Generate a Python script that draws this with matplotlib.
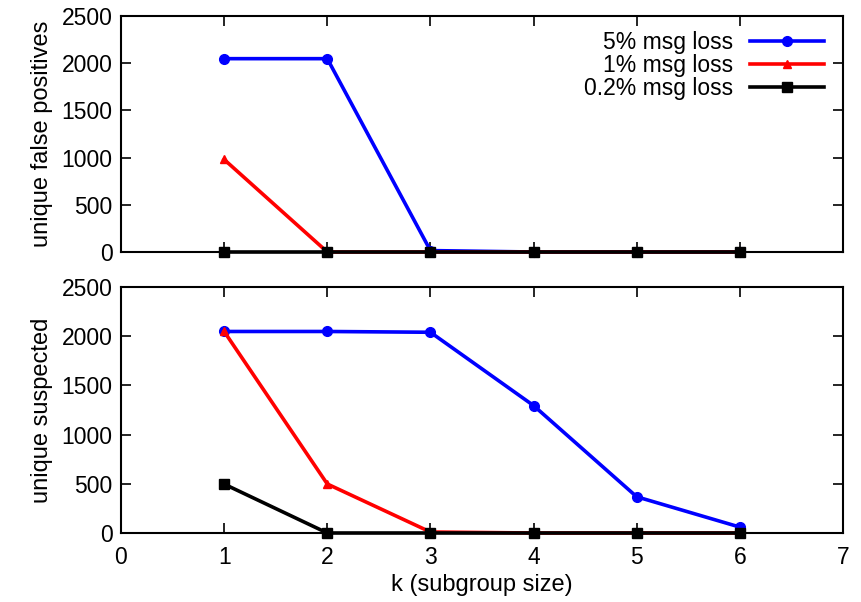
import matplotlib
matplotlib.use("Agg")
from matplotlib import pyplot as plt

k = [1, 2, 3, 4, 5, 6]
labels = ["5% msg loss", "1% msg loss", "0.2% msg loss"]

# unique false positives
fp_5 = [2048, 2048, 15, 0, 0, 0]
fp_1 = [980, 0, 0, 0, 0, 0]
fp_02 = [0, 0, 0, 0, 0, 0]

# unique suspected
sus_5 = [2048, 2048, 2040, 1295, 368, 60]
sus_1 = [2048, 498, 10, 0, 0, 0]
sus_02 = [497, 0, 0, 0, 0, 0]

plt.rcParams["font.family"] = ["Liberation Sans", "DejaVu Sans"]
plt.rcParams["font.size"] = 16.5

fig = plt.figure(figsize=(8.62, 6.02), dpi=100)
ax1 = fig.add_axes([121 / 862, 1 - 252 / 602, 722 / 862, 236 / 602])
ax2 = fig.add_axes([121 / 862, 1 - 533 / 602, 722 / 862, 246 / 602])

styles = [("blue", "o", 7), ("red", "^", 6), ("black", "s", 6.5)]

for ax, series in ((ax1, (fp_5, fp_1, fp_02)), (ax2, (sus_5, sus_1, sus_02))):
    for vals, (c, m, ms), lab in zip(series, styles, labels):
        ax.plot(k, vals, color=c, marker=m, markersize=ms, linewidth=2.6,
                label=lab, clip_on=False, zorder=3)
    ax.set_xlim(0, 7)
    ax.set_ylim(0, 2500)
    ax.set_xticks(range(0, 8))
    ax.set_yticks(range(0, 2501, 500))
    ax.tick_params(direction="in", length=7, width=1.2, top=True, right=True, labelsize=16.5)
    ax.tick_params(axis="y", pad=6)
    ax.tick_params(axis="x", pad=9)
    for s in ax.spines.values():
        s.set_linewidth(1.5)

ax1.tick_params(labelbottom=False)
ax1.set_ylabel("unique false positives", fontsize=17, labelpad=6)
ax2.set_ylabel("unique suspected", fontsize=17, labelpad=6)
ax2.set_xlabel("k (subgroup size)", fontsize=17, labelpad=4)

ax1.legend(loc="upper right", bbox_to_anchor=(1.005, 1.035), frameon=False,
           markerfirst=False, handlelength=3.2, labelspacing=0.0,
           borderaxespad=0.7, borderpad=0.3, fontsize=16.5, handletextpad=0.75)

fig.savefig("out.png", dpi=100)
